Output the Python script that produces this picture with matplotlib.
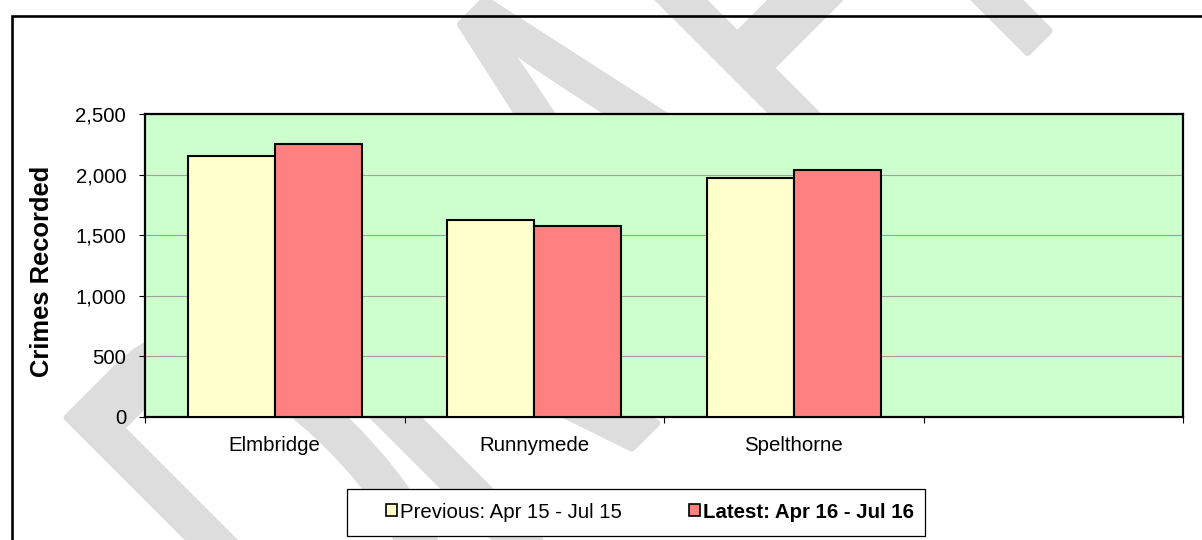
import numpy as np
import matplotlib
matplotlib.use('Agg')
from matplotlib import pyplot as plt
from matplotlib.patches import Patch, Rectangle, PathPatch
from matplotlib.textpath import TextPath
from matplotlib.font_manager import FontProperties
from matplotlib.transforms import Affine2D
from matplotlib.ticker import FuncFormatter, FixedLocator

# data
areas = ['Elmbridge', 'Runnymede', 'Spelthorne', '']
previous = [2150, 1625, 1970]
latest = [2250, 1575, 2040]
series_names = ['Previous: Apr 15 - Jul 15', 'Latest: Apr 16 - Jul 16']
yticks = [0, 500, 1000, 1500, 2000, 2500]

plt.rcParams['font.family'] = ['Liberation Sans', 'DejaVu Sans']

W, H = 1202, 540
fig = plt.figure(figsize=(W / 100, H / 100), dpi=100)

# faint DRAFT watermark, letters placed one by one along a 45 degree baseline
wm_font = FontProperties(family='Liberation Sans')
cap = TextPath((0, 0), 'T', size=1, prop=wm_font).get_extents().y1
E = 421 / cap          # cap height in pixels
cE = 0.54 * E          # letters are squeezed sideways
letter_pos = {'D': -275, 'R': -58, 'A': 215, 'F': 439, 'T': 604}
for ch, s0 in letter_pos.items():
    tp = TextPath((0, 0), ch, size=1, prop=wm_font)
    tr = Affine2D().scale(cE, E).translate(s0, 0).rotate_deg(45).translate(540, 0)
    fig.add_artist(PathPatch(tp, transform=tr, facecolor='#dddddd', edgecolor='#dddddd',
                             lw=5, joinstyle='round', zorder=-5))

# outer frame (runs off the right and bottom)
fig.add_artist(Rectangle((12, -30), W + 40, H - 16 + 30, transform=None,
                         fill=False, edgecolor='black', lw=1.9, zorder=-1))

ax = fig.add_axes([145 / W, 1 - 417 / H, (1183 - 145) / W, (417 - 114) / H])
ax.set_facecolor('#ccffcc')

x = np.arange(len(previous))
w = 0.335
ax.bar(x - w / 2, previous, w, color='#ffffcc', edgecolor='black', lw=1.5, zorder=3)
ax.bar(x + w / 2, latest, w, color='#ff8080', edgecolor='black', lw=1.5, zorder=3)

ax.set_xlim(-0.5, len(areas) - 0.5)
ax.set_ylim(0, 2500)
ax.set_yticks(yticks)
ax.yaxis.set_major_formatter(FuncFormatter(lambda v, p: f'{int(v):,}'))
ax.grid(axis='y', color='#a0a0a0', lw=0.8, zorder=1)
ax.set_axisbelow(True)

ax.set_xticks(np.arange(len(areas)))
ax.set_xticklabels(areas)
ax.xaxis.set_minor_locator(FixedLocator(np.arange(len(areas) + 1) - 0.5))
ax.tick_params(axis='x', which='major', length=0, pad=14, labelsize=14.7)
ax.tick_params(axis='x', which='minor', length=4.5, width=0.8, direction='out')
ax.tick_params(axis='y', length=4.5, width=0.8, pad=9, labelsize=14.7)

for s in ax.spines.values():
    s.set_linewidth(1.6)
    s.set_color('black')

fig.text(42 / W, 1 - 271 / H, 'Crimes Recorded', rotation=90, ha='center', va='center',
         fontsize=18.4, fontweight='bold')

# legend box drawn separately, entries placed inside it
fig.add_artist(Rectangle((347, H - 536), 578, 47, transform=None, facecolor='white',
                         edgecolor='black', lw=0.9, zorder=2))
handles = [Patch(facecolor='#ffffcc', edgecolor='black', lw=1.2),
           Patch(facecolor='#ff8080', edgecolor='black', lw=1.2)]
leg = fig.legend(handles, series_names, loc='center', bbox_to_anchor=(650 / W, 1 - 512 / H),
                 ncol=2, fontsize=14.7, frameon=False,
                 handlelength=0.55, handleheight=0.55, handletextpad=0.15,
                 columnspacing=3.3, borderpad=0.3, borderaxespad=0)
leg.set_zorder(3)
leg.get_texts()[1].set_fontweight('bold')

fig.savefig('out.png', dpi=100)
